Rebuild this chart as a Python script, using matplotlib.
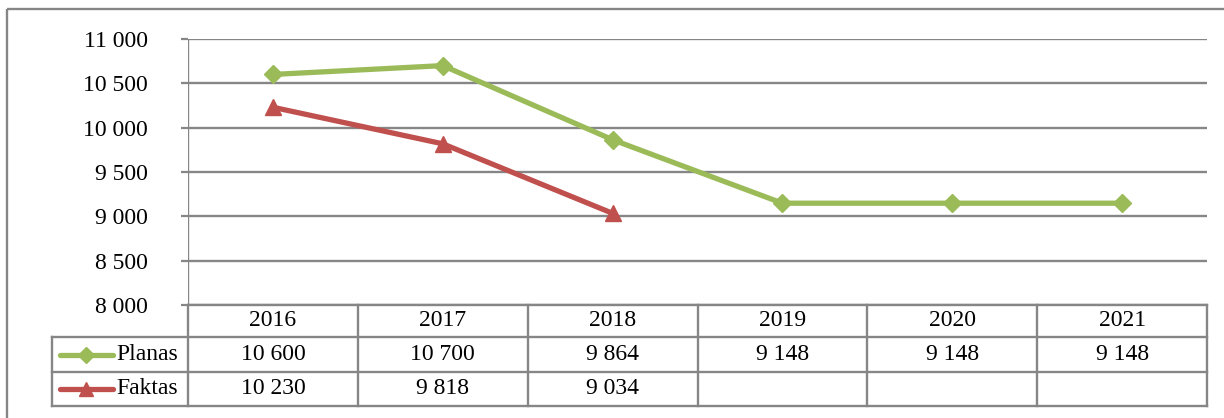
import matplotlib
matplotlib.use("Agg")
import matplotlib.pyplot as plt
from matplotlib.lines import Line2D
from matplotlib.patches import Rectangle
import matplotlib.transforms as mtransforms

years = ["2016", "2017", "2018", "2019", "2020", "2021"]
planas = [10600, 10700, 9864, 9148, 9148, 9148]
faktas = [10230, 9818, 9034]
series_names = ["Planas", "Faktas"]
yticks = [8000, 8500, 9000, 9500, 10000, 10500, 11000]

GREEN = "#9BBB59"
RED = "#C0504D"
GRID = "#868686"

def fmt(v):
    return f"{v:,}".replace(",", " ")

W, H = 1224, 418
fig = plt.figure(figsize=(W / 100, H / 100), dpi=100)
plt.rcParams['font.family'] = ['Liberation Serif', 'DejaVu Serif']
FS = 17

# pixel layout
L, R, T, B = 188, 1207, 39, 305
ax = fig.add_axes([L / W, 1 - B / H, (R - L) / W, (B - T) / H])
ax.set_xlim(-0.5, len(years) - 0.5)
ax.set_ylim(8000, 11000)
for s in ax.spines.values():
    s.set_visible(False)
ax.set_xticks([])
ax.set_yticks(yticks)
ax.set_yticklabels([fmt(v) for v in yticks], fontsize=FS)
ax.tick_params(axis='y', length=5, width=1.6, color=GRID, pad=24)
for v in yticks:
    ax.axhline(v, color=GRID, lw=1.7, zorder=1)
ax.axvline(-0.5, color=GRID, lw=1.7, zorder=1)

x = list(range(len(years)))
ax.plot(x, planas, color=GREEN, lw=3.8, marker="D", ms=9, zorder=3, clip_on=False)
ax.plot(x[:len(faktas)], faktas, color=RED, lw=3.8, marker="^", ms=11, zorder=3, clip_on=False)

# table in pixel coordinates (figure, top-left origin)
pix = mtransforms.Affine2D().scale(1 / W, -1 / H).translate(0, 1) + fig.transFigure
cw = (R - L) / len(years)
Lleg = 52
rows = [305, 337, 372, 406]

def hline(x0, x1, y):
    fig.add_artist(Line2D([x0, x1], [y, y], color=GRID, lw=1.7, transform=pix))

def vline(xx, y0, y1):
    fig.add_artist(Line2D([xx, xx], [y0, y1], color=GRID, lw=1.7, transform=pix))

hline(L, R, rows[0])
for yy in rows[1:]:
    hline(Lleg, R, yy)
vline(Lleg, rows[1], rows[3])
vline(L, rows[0], rows[3])
for i in range(1, len(years) + 1):
    vline(L + i * cw, rows[0], rows[3])

for i, yr in enumerate(years):
    cx = L + (i + 0.5) * cw
    fig.text(cx / W, 1 - (rows[0] + rows[1]) / 2 / H, yr, ha="center", va="center", fontsize=FS)
    fig.text(cx / W, 1 - (rows[1] + rows[2]) / 2 / H, fmt(planas[i]), ha="center", va="center", fontsize=FS)
    if i < len(faktas):
        fig.text(cx / W, 1 - (rows[2] + rows[3]) / 2 / H, fmt(faktas[i]), ha="center", va="center", fontsize=FS)

# legend keys
for name, col, mk, ms, (r0, r1) in [(series_names[0], GREEN, "D", 8, (rows[1], rows[2])),
                                     (series_names[1], RED, "^", 10, (rows[2], rows[3]))]:
    yc = (r0 + r1) / 2
    fig.add_artist(Line2D([60, 113], [yc, yc], color=col, lw=3.8, transform=pix, solid_capstyle="round"))
    fig.add_artist(Line2D([86], [yc], color=col, marker=mk, ms=ms, transform=pix, linestyle="none"))
    fig.text(116 / W, 1 - yc / H, name, ha="left", va="center", fontsize=FS)

# outer chart border
fig.add_artist(Rectangle((7, 9), 1300, 500, fill=False, edgecolor=GRID, lw=1.7, transform=pix))

fig.savefig("out.png", dpi=100)
